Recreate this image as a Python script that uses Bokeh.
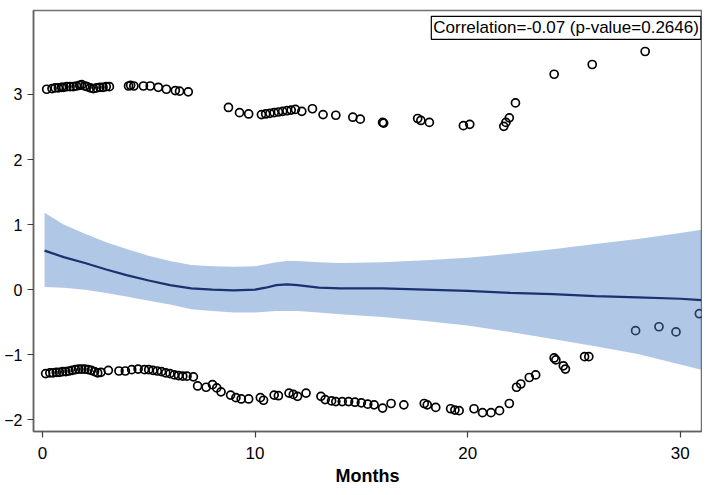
from bokeh.plotting import figure
from bokeh.models import Range1d, FixedTicker, Label
from bokeh.embed import file_html
from bokeh.resources import INLINE

# ---- data ----
months_upper = [0.2, 0.45, 0.6, 0.75, 0.9, 1.0, 1.15, 1.3, 1.45, 1.6, 1.75, 1.85, 2.0, 2.1, 2.25, 2.4,
                2.55, 2.7, 2.85, 3.0, 3.15, 4.05, 4.15, 4.3, 4.75, 5.07, 5.45, 5.83, 6.25, 6.45, 6.86,
                8.75, 9.27, 9.7, 10.3, 10.5, 10.7, 10.9, 11.1, 11.3, 11.5, 11.7, 11.9, 12.2, 12.7,
                13.2, 13.8, 14.6, 14.95, 16.0, 16.05, 17.65, 17.8, 18.2, 19.8, 20.1, 21.7, 21.8,
                21.96, 22.25, 24.07, 25.86, 28.35]
values_upper = [3.08, 3.09, 3.1, 3.1, 3.11, 3.11, 3.12, 3.12, 3.12, 3.13, 3.14, 3.15, 3.13, 3.12, 3.1, 3.09,
                3.1, 3.11, 3.11, 3.12, 3.12, 3.13, 3.14, 3.13, 3.13, 3.13, 3.11, 3.08, 3.06, 3.05, 3.04,
                2.8, 2.72, 2.7, 2.69, 2.7, 2.71, 2.72, 2.73, 2.74, 2.75, 2.76, 2.77, 2.74, 2.78,
                2.69, 2.68, 2.65, 2.62, 2.57, 2.56, 2.63, 2.6, 2.57, 2.52, 2.54, 2.51, 2.57,
                2.64, 2.87, 3.31, 3.46, 3.66]

months_lower = [0.15, 0.35, 0.5, 0.65, 0.8, 0.95, 1.1, 1.25, 1.4, 1.55, 1.7, 1.85, 2.0, 2.15, 2.3, 2.45,
                2.6, 2.75, 3.1, 3.6, 3.9, 4.2, 4.5, 4.8, 5.0, 5.2, 5.4, 5.6, 5.8, 6.0, 6.2, 6.4, 6.6,
                6.8, 7.1, 7.3, 7.7, 8.0, 8.2, 8.4, 8.85, 9.1, 9.35, 9.7, 10.25, 10.4, 10.9, 11.1,
                11.6, 11.8, 12.0, 12.4, 13.1, 13.3, 13.6, 13.8, 14.1, 14.4, 14.7, 15.0, 15.3, 15.6,
                16.0, 16.4, 17.0, 17.96, 18.1, 18.5, 19.2, 19.4, 19.6, 20.3, 20.7, 21.1, 21.5,
                21.96, 22.3, 22.5, 22.9, 23.2, 24.07, 24.15, 24.5, 24.6, 25.5, 25.7, 27.9, 29.0,
                29.8, 30.9]
values_lower = [-1.29, -1.28, -1.28, -1.27, -1.27, -1.26, -1.26, -1.25, -1.24, -1.23, -1.22, -1.22, -1.22,
                -1.23, -1.24, -1.26, -1.28, -1.27, -1.24, -1.25, -1.25, -1.23, -1.22, -1.23, -1.23,
                -1.24, -1.25, -1.26, -1.28, -1.29, -1.31, -1.32, -1.33, -1.33, -1.34, -1.48, -1.5,
                -1.46, -1.51, -1.57, -1.62, -1.66, -1.68, -1.68, -1.66, -1.7, -1.62, -1.63, -1.59,
                -1.61, -1.64, -1.59, -1.64, -1.69, -1.71, -1.72, -1.72, -1.72, -1.73, -1.74, -1.76,
                -1.77, -1.82, -1.75, -1.77, -1.75, -1.77, -1.81, -1.83, -1.85, -1.86, -1.83, -1.89,
                -1.89, -1.86, -1.75, -1.5, -1.45, -1.35, -1.31, -1.05, -1.08, -1.17, -1.22, -1.03,
                -1.03, -0.63, -0.57, -0.65, -0.37]

fit_months = [0.1, 1, 2, 3, 4, 5, 6, 7, 8, 9, 10, 10.5, 11, 11.5, 12, 13, 14, 16, 18, 20, 22, 24,
              26, 28, 30, 31]
fit_values = [0.6, 0.5, 0.41, 0.31, 0.22, 0.14, 0.07, 0.02, 0.0, -0.01, 0.0, 0.03, 0.07, 0.08, 0.07,
              0.03, 0.02, 0.02, 0.0, -0.02, -0.05, -0.07, -0.1, -0.12, -0.14, -0.16]
ci_upper = [1.18, 1.0, 0.86, 0.73, 0.62, 0.52, 0.44, 0.38, 0.36, 0.35, 0.36, 0.39, 0.42, 0.44, 0.44,
            0.42, 0.41, 0.42, 0.45, 0.49, 0.55, 0.62, 0.7, 0.78, 0.87, 0.92]
ci_lower = [0.04, 0.03, 0.0, -0.05, -0.11, -0.17, -0.23, -0.3, -0.33, -0.35, -0.35, -0.34, -0.33,
            -0.33, -0.33, -0.35, -0.38, -0.42, -0.48, -0.55, -0.65, -0.76, -0.87, -0.99, -1.15, -1.23]

x_ticks = [0, 10, 20, 30]
y_ticks = [-2, -1, 0, 1, 2, 3]
annotation = "Correlation=-0.07 (p-value=0.2646)"

FONT = "Liberation Sans"

p = figure(width=702, height=492, output_backend="svg", toolbar_location=None,
           x_range=Range1d(-0.42, 31.0), y_range=Range1d(-2.18, 4.29),
           min_border_left=33, min_border_top=10, min_border_right=1, min_border_bottom=61)

p.background_fill_color = "white"
p.border_fill_color = "white"
p.outline_line_color = "#707070"
p.outline_line_width = 1.5
p.grid.visible = False

p.scatter(x=months_upper, y=values_upper, marker="circle", size=8, fill_color=None,
          line_color="black", line_width=1.7)
p.scatter(x=months_lower, y=values_lower, marker="circle", size=8, fill_color=None,
          line_color="black", line_width=1.7)

p.varea(x=fit_months, y1=ci_lower, y2=ci_upper, fill_color="#4f85c7", fill_alpha=0.45)
p.line(x=fit_months, y=fit_values, line_color="#1b3170", line_width=2.2)

for ax in (p.xaxis[0], p.yaxis[0]):
    ax.axis_line_color = "#606060"
    ax.axis_line_width = 1.5
    ax.major_tick_line_color = "#404040"
    ax.major_tick_line_width = 1.2
    ax.major_tick_out = 6
    ax.major_tick_in = 0
    ax.minor_tick_line_color = None
    ax.major_label_text_font = FONT
    ax.major_label_text_color = "black"

p.xaxis.ticker = FixedTicker(ticks=x_ticks)
p.yaxis.ticker = FixedTicker(ticks=y_ticks)
p.xaxis.major_label_text_font_size = "17px"
p.yaxis.major_label_text_font_size = "16px"
p.xaxis.major_label_standoff = 9
p.yaxis.major_label_standoff = 5
p.xaxis.axis_label = "Months"
p.xaxis.axis_label_text_font = FONT
p.xaxis.axis_label_text_font_size = "18px"
p.xaxis.axis_label_text_font_style = "bold"
p.xaxis.axis_label_text_color = "black"
p.xaxis.axis_label_standoff = 4

lab = Label(x=30.97, y=4.20, text=annotation, text_align="right", text_baseline="top",
            text_font=FONT, text_font_size="17px", text_color="black",
            border_line_color="black", border_line_width=1.2,
            background_fill_color="white", padding=2)
p.add_layout(lab)

open("out.html", "w").write(file_html(p, INLINE))
